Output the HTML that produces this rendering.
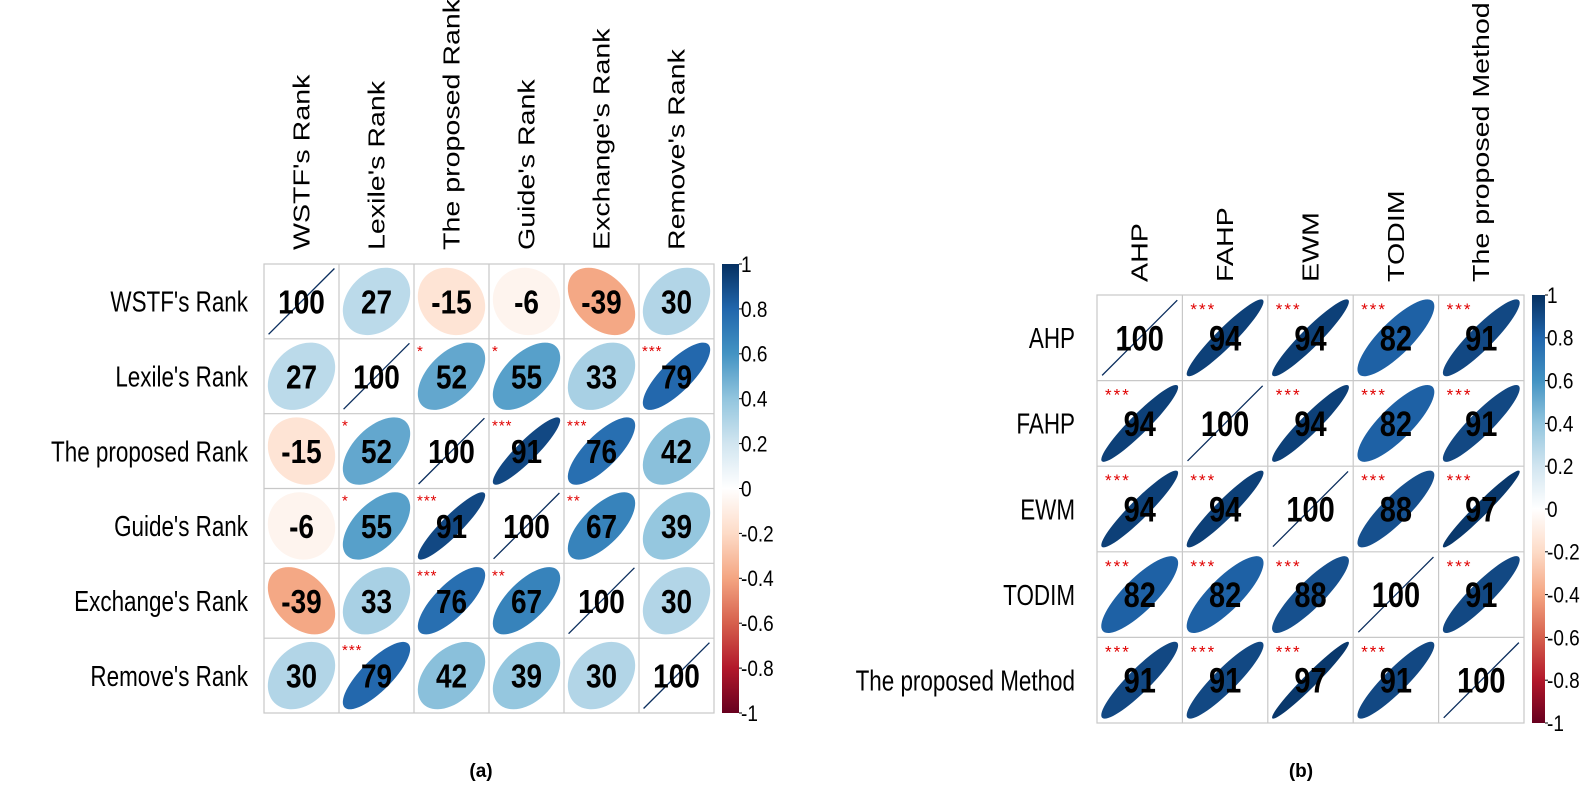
<!DOCTYPE html>
<html><head><meta charset="utf-8">
<style>
html,body{margin:0;padding:0;background:#fff;}
svg{display:block;font-family:"Liberation Sans",Arial,sans-serif;}
</style></head>
<body>
<svg id="svg" width="1581" height="787" viewBox="0 0 1581 787" xmlns="http://www.w3.org/2000/svg">
<defs>
<linearGradient id="rdbu" x1="0" y1="1" x2="0" y2="0">
<stop offset="0" stop-color="#67001F"/><stop offset="0.1" stop-color="#B2182B"/><stop offset="0.2" stop-color="#D6604D"/><stop offset="0.3" stop-color="#F4A582"/><stop offset="0.4" stop-color="#FDDBC7"/><stop offset="0.5" stop-color="#FFFFFF"/><stop offset="0.6" stop-color="#D1E5F0"/><stop offset="0.7" stop-color="#92C5DE"/><stop offset="0.8" stop-color="#4393C3"/><stop offset="0.9" stop-color="#2166AC"/><stop offset="1" stop-color="#053061"/>
</linearGradient>
</defs>
<g id="chartA"></g>
<g id="chartB"></g>
<text x="481" y="777" font-size="19" font-weight="bold" text-anchor="middle">(a)</text>
<text x="1301" y="777" font-size="19" font-weight="bold" text-anchor="middle">(b)</text>
</svg>
<script>
const labelsA = ["WSTF's Rank","Lexile's Rank","The proposed Rank","Guide's Rank","Exchange's Rank","Remove's Rank"];
const valuesA = [
 [100,27,-15,-6,-39,30],
 [27,100,52,55,33,79],
 [-15,52,100,91,76,42],
 [-6,55,91,100,67,39],
 [-39,33,76,67,100,30],
 [30,79,42,39,30,100]];
const starsA = [
 ["","","","","",""],
 ["","","*","*","","***"],
 ["","*","","***","***",""],
 ["","*","***","","**",""],
 ["","","***","**","",""],
 ["","***","","","",""]];
const labelsB = ["AHP","FAHP","EWM","TODIM","The proposed Method"];
const valuesB = [
 [100,94,94,82,91],
 [94,100,94,82,91],
 [94,94,100,88,97],
 [82,82,88,100,91],
 [91,91,97,91,100]];
const starsB = [
 ["","***","***","***","***"],
 ["***","","***","***","***"],
 ["***","***","","***","***"],
 ["***","***","***","","***"],
 ["***","***","***","***",""]];
const colorbarTicks = ["1","0.8","0.6","0.4","0.2","0","-0.2","-0.4","-0.6","-0.8","-1"];
const tickValues = [1,0.8,0.6,0.4,0.2,0,-0.2,-0.4,-0.6,-0.8,-1];

const NS="http://www.w3.org/2000/svg";
const stops=["#67001F","#B2182B","#D6604D","#F4A582","#FDDBC7","#FFFFFF","#D1E5F0","#92C5DE","#4393C3","#2166AC","#053061"];
function hx(c){return [1,3,5].map(i=>parseInt(c.substr(i,2),16));}
function colorOf(r){
  let t=(r+1)/2*10; let i=Math.min(9,Math.floor(t)); let f=t-i;
  const a=hx(stops[i]),b=hx(stops[i+1]);
  return "rgb("+a.map((v,k)=>Math.round(v+(b[k]-v)*f)).join(",")+")";
}
function mk(tag,attrs,parent){const e=document.createElementNS(NS,tag);for(const k in attrs)e.setAttribute(k,attrs[k]);parent.appendChild(e);return e;}
const SY=1.3, NY=1.2;

function drawChart(g,labels,vals,stars,cfg){
  const n=labels.length, cw=cfg.w/n, ch=cfg.h/n;
  const xs=j=>cfg.x+j*cw, ys=i=>cfg.y+i*ch;
  const bg=mk("rect",{x:cfg.x,y:cfg.y,width:cfg.w,height:cfg.h,fill:"#fff",stroke:"#c8c8c8","stroke-width":1.2},g);
  
  
  for(let k=1;k<n;k++){
    const l1=mk("line",{x1:xs(k),x2:xs(k),y1:cfg.y,y2:cfg.y+cfg.h,stroke:"#c8c8c8","stroke-width":1.2},g);
    
    
    const l2=mk("line",{y1:ys(k),y2:ys(k),x1:cfg.x,x2:cfg.x+cfg.w,stroke:"#c8c8c8","stroke-width":1.2},g);
    
    
  }
  for(let i=0;i<n;i++){
    const rx=cfg.x-cfg.rowGap, ry=ys(i)+ch/2+cfg.fs*0.36*SY;
    const rl=mk("text",{x:0,y:0,"font-size":cfg.fs,"text-anchor":"end",fill:"#000",transform:`translate(${rx} ${ry}) scale(1.02 ${SY})`},g);
    rl.textContent=labels[i];
    
    
    const cx=xs(i)+cw/2+cfg.fs*0.36, cy=cfg.y-cfg.colGap;
    const cl=mk("text",{x:0,y:0,"font-size":cfg.fs,transform:`translate(${cx} ${cy}) rotate(-90) scale(${SY} 1.05)`,fill:"#000"},g);
    cl.textContent=labels[i];
    
    
  }
  for(let i=0;i<n;i++)for(let j=0;j<n;j++){
    const v=vals[i][j], r=v/100;
    const cx=xs(j)+cw/2, cy=ys(i)+ch/2, s=Math.min(cw,ch);
    if(i===j){
      const d=s*0.44;
      const ln=mk("line",{x1:cx-d,y1:cy+d,x2:cx+d,y2:cy-d,stroke:"#0b2e5e","stroke-width":1.3},g);
      
      
    } else {
      const a=s*0.45*Math.sqrt(1+Math.abs(r)), b=s*0.45*Math.sqrt(1-Math.abs(r));
      const el=mk("ellipse",{cx:cx,cy:cy,rx:a,ry:Math.max(b,1),fill:colorOf(r),transform:`rotate(${r>=0?-45:45} ${cx} ${cy})`},g);
      
      
    }
    const t=mk("text",{x:0,y:0,"font-size":cfg.nfs,"font-weight":"bold","text-anchor":"middle",fill:"#000",transform:`translate(${cx} ${cy+cfg.nfs*0.36*NY}) scale(1 ${NY})`},g);
    t.textContent=String(v);
    
    
    if(stars[i][j]){
      const st=mk("text",{x:xs(j)+cfg.starDx,y:ys(i)+cfg.starDy,"font-size":cfg.sfs,fill:"#e00000","letter-spacing":cfg.sls},g);
      st.textContent=stars[i][j];
      
      
    }
  }
  const cb=mk("rect",{x:cfg.cbx,y:cfg.y,width:cfg.cbw,height:cfg.h,fill:"url(#rdbu)"},g);
  
  
  tickValues.forEach((tv,k)=>{
    const y=cfg.y+(1-tv)/2*cfg.h;
    const tk=mk("line",{x1:cfg.cbx+cfg.cbw,x2:cfg.cbx+cfg.cbw+3,y1:y,y2:y,stroke:"#000","stroke-width":1},g);
    
    
    const tl=mk("text",{x:0,y:0,"font-size":cfg.tfs,fill:"#000",transform:`translate(${cfg.cbx+cfg.cbw+2} ${y+cfg.tfs*0.36*1.15}) scale(1 1.15)`},g);
    tl.textContent=colorbarTicks[k];
    
    
  });
}
drawChart(document.getElementById("chartA"),labelsA,valuesA,starsA,
 {x:264,y:264,w:450,h:449,fs:22,nfs:28,sfs:15,sls:1,starDx:3,starDy:17,rowGap:16,colGap:14,cbx:722,cbw:17,tfs:19});
drawChart(document.getElementById("chartB"),labelsB,valuesB,starsB,
 {x:1097,y:295,w:427,h:428,fs:22,nfs:29,sfs:17,sls:2,starDx:8,starDy:20,rowGap:22,colGap:13,cbx:1532,cbw:13,tfs:19});
</script>
</body></html>
